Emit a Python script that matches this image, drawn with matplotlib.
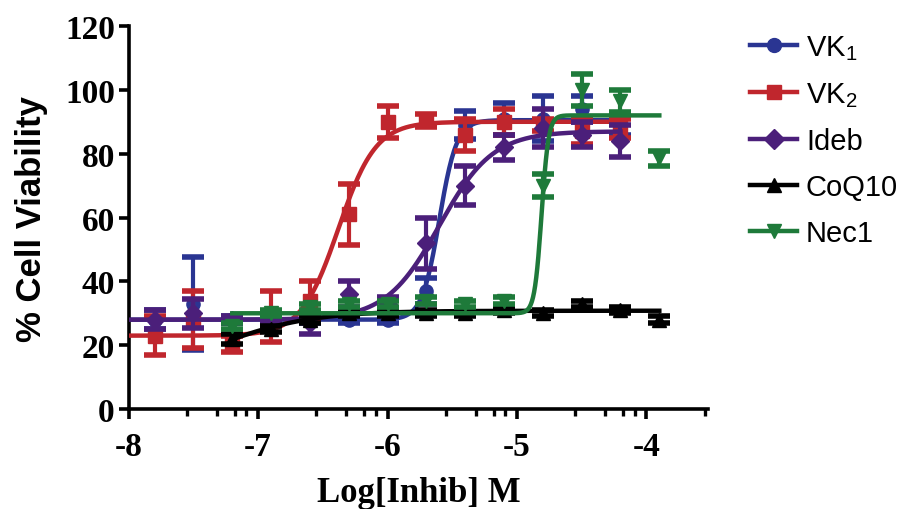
import numpy as np
import matplotlib.pyplot as plt

plt.rcParams['mathtext.fontset'] = 'custom'
plt.rcParams['mathtext.rm'] = 'Liberation Sans'

# log concentrations (M)
log_conc = [-7.8, -7.5, -7.2, -6.9, -6.6, -6.3, -6.0, -5.7, -5.4, -5.1, -4.8, -4.5, -4.2]
log_conc_b = [-7.2, -6.9, -6.6, -6.3, -6.0, -5.7, -5.4, -5.1, -4.8, -4.5, -4.2, -3.9]

# % viability, mean and error
vk1_mean = [28, 33, 28, 28, 28, 28, 28, 37, 89, 91, 91, 94, 89]
vk1_err = [3, 14.5, 1, 1, 1, 1, 1, 4, 4.5, 5, 7, 4, 3]
vk2_mean = [23, 28, 20.5, 29, 34, 61, 90, 90.5, 86, 90, 89, 87, 88]
vk2_err = [6, 9, 2.5, 8, 6, 9.5, 5, 2, 5, 4, 2, 4, 3]
ideb_mean = [28, 30, 28, 28, 27, 36, 33, 52, 70, 82, 88, 86, 84]
ideb_err = [3, 4.5, 1, 1, 3.5, 4, 2, 8, 6, 4, 6, 4, 5]
coq_mean = [22, 25, 28, 30, 30, 30, 30, 31, 30, 33, 31, 28]
coq_err = [1.5, 1, 1, 1, 1, 1, 1, 1, 1, 1, 1, 1]
nec_mean = [26, 30, 32, 33, 33, 34, 33, 34, 70, 100, 96.5, 78.5]
nec_err = [1, 1, 1, 1, 1, 1, 1, 1, 3.5, 5, 3.5, 2.5]

# fitted dose-response curves: bottom, top, logEC50, hill slope
fit_bottom = [28, 23, 28, 10, 30]
fit_top = [90.5, 90, 87, 30.8, 92]
fit_logec50 = [-5.6, -6.38, -5.6, -7.3, -4.81]
fit_hill = [6.5, 3.0, 2.1, 1.2, 16]

labels = [r'VK$\mathregular{_1}$', r'VK$\mathregular{_2}$', 'Ideb', 'CoQ10', 'Nec1']
colors = ['#2a3592', '#c0262d', '#4b1f7a', '#000000', '#1e7a3a']
markers = ['o', 's', 'D', '^', 'v']

series = [
    (log_conc, vk1_mean, vk1_err),
    (log_conc, vk2_mean, vk2_err),
    (log_conc, ideb_mean, ideb_err),
    (log_conc_b, coq_mean, coq_err),
    (log_conc_b, nec_mean, nec_err),
]
curve_start = [-8.0, -8.0, -8.0, -7.2, -7.2]
curve_end = [-4.2, -4.2, -4.2, -3.9, -3.9]

fig = plt.figure(figsize=(9.13, 5.10), dpi=100)
ax = fig.add_axes([0.141, 0.196, 0.635, 0.751])

handles = []
for i, (x, y, e) in enumerate(series):
    xx = np.linspace(curve_start[i], curve_end[i], 400)
    yy = fit_bottom[i] + (fit_top[i] - fit_bottom[i]) / (1 + 10 ** ((fit_logec50[i] - xx) * fit_hill[i]))
    ax.plot(xx, yy, color=colors[i], lw=3.2, zorder=2 + i)
    ax.errorbar(x, y, yerr=e, fmt=markers[i], color=colors[i], ms=9.5,
                elinewidth=3, capsize=8, capthick=4, zorder=2 + i)
    h, = ax.plot([], [], color=colors[i], lw=3.2, marker=markers[i], ms=10, label=labels[i])
    handles.append(h)

ax.set_xlim(-8, -3.52)
ax.set_ylim(0, 120)
ax.set_xticks([-8, -7, -6, -5, -4])
ax.set_xticklabels(['-8', '-7', '-6', '-5', '-4'])
minor = [m + d for m in [-8, -7, -6, -5, -4] for d in [0.45, 0.68, 0.82, 0.91]]
ax.set_xticks([m for m in minor if m < -3.5], minor=True)
ax.set_yticks([0, 20, 40, 60, 80, 100, 120])

for s in ['top', 'right']:
    ax.spines[s].set_visible(False)
for s in ['left', 'bottom']:
    ax.spines[s].set_linewidth(2.6)
ax.tick_params(axis='both', which='major', length=7, width=2.6, direction='out', pad=9)
ax.tick_params(axis='y', which='major', pad=3)
ax.tick_params(axis='x', which='minor', length=5, width=2.4, direction='out')
for lab in ax.get_xticklabels() + ax.get_yticklabels():
    lab.set_fontfamily('Liberation Serif')
    lab.set_fontweight('bold')
    lab.set_fontsize(24)

ax.set_xlabel('Log[Inhib] M', fontfamily='Liberation Serif', fontweight='bold', fontsize=25, labelpad=10)
ax.set_ylabel('% Cell Viability', fontfamily='Liberation Sans', fontweight='bold', fontsize=25, labelpad=12)

fig.legend(handles=handles, loc='upper left', bbox_to_anchor=(0.806, 0.961),
           frameon=False, prop={'family': 'Liberation Sans', 'size': 21},
           handlelength=1.6, labelspacing=0.62, handletextpad=0.3, borderpad=0)

fig.savefig('out.png', dpi=100)
